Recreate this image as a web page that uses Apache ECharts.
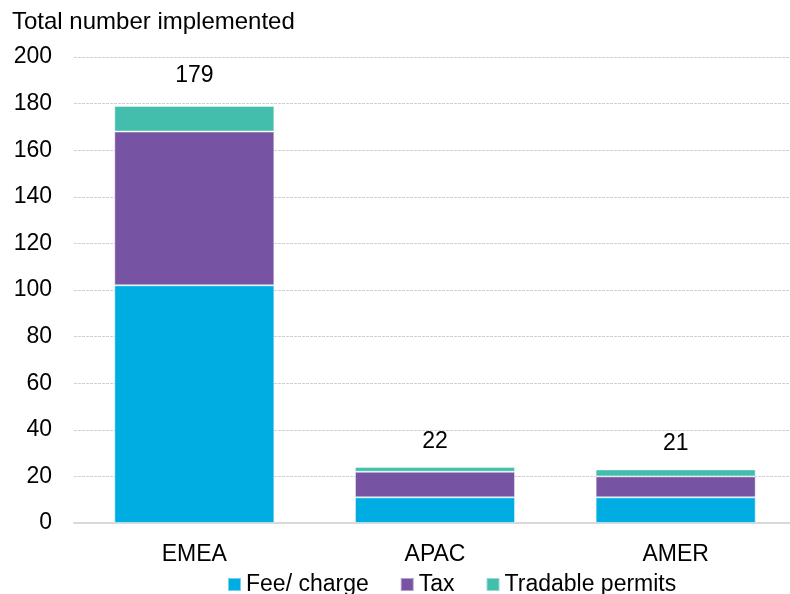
<!DOCTYPE html>
<html>
<head>
<meta charset="utf-8">
<style>html,body{margin:0;padding:0;background:#fff;overflow:hidden;width:790px;height:594px;}#c{width:796px;height:594px;}</style>
<script src="https://cdn.jsdelivr.net/npm/echarts@6/dist/echarts.min.js"></script>
</head>
<body>
<div id="c"></div>
<script>
var categories = ['EMEA', 'APAC', 'AMER'];
var feeCharge = [102, 11, 11];
var tax = [66, 11, 9];
var tradablePermits = [11, 2, 3];
var totalLabels = [179, 22, 21];
var seriesNames = ['Fee/ charge', 'Tax', 'Tradable permits'];
var yTicks = [0, 20, 40, 60, 80, 100, 120, 140, 160, 180, 200];

var FONT = '"Liberation Sans", Arial, sans-serif';
var chart = echarts.init(document.getElementById('c'), null, {renderer: 'canvas'});
var barStyle = function (c) {
  return {color: c, borderColor: 'rgba(255,255,255,0.45)', borderWidth: 1};
};
chart.setOption({
  animation: false,
  backgroundColor: '#ffffff',
  title: {
    text: 'Total number implemented',
    left: 7, top: 5,
    textStyle: {fontFamily: FONT, fontSize: 24, fontWeight: 'normal', color: '#000'}
  },
  legend: {
    data: seriesNames,
    left: 227, top: 573, padding: 0,
    itemWidth: 13, itemHeight: 13, itemGap: 31,
    icon: 'rect',
    textStyle: {fontFamily: FONT, fontSize: 23, color: '#000'}
  },
  grid: {left: 74, right: 0, top: 57, bottom: 71, containLabel: false},
  xAxis: {
    type: 'category',
    data: categories,
    axisLine: {show: true, lineStyle: {color: '#d9d9d9', width: 2}},
    axisTick: {show: false},
    axisLabel: {fontFamily: FONT, fontSize: 23, color: '#000', margin: 20}
  },
  yAxis: {
    type: 'value',
    min: yTicks[0], max: yTicks[yTicks.length - 1], interval: yTicks[1] - yTicks[0],
    axisLine: {show: false},
    axisTick: {show: false},
    axisLabel: {fontFamily: FONT, fontSize: 23, color: '#000', margin: 22},
    splitLine: {lineStyle: {color: '#d0d0d0', type: [3, 1], width: 1}}
  },
  series: [
    {name: seriesNames[0], type: 'bar', stack: 't', data: feeCharge, barWidth: '66.5%', itemStyle: barStyle('#00ade3')},
    {name: seriesNames[1], type: 'bar', stack: 't', data: tax, itemStyle: barStyle('#7654a3')},
    {name: seriesNames[2], type: 'bar', stack: 't', data: tradablePermits, itemStyle: barStyle('#43beac')},
    {
      name: 'labels', type: 'scatter', data: totalLabels, symbolSize: 0, silent: true,
      itemStyle: {opacity: 1},
      label: {show: true, position: 'top', distance: 19, fontFamily: FONT, fontSize: 23, color: '#000', opacity: 1,
        formatter: function (p) { return String(totalLabels[p.dataIndex]); }}
    }
  ]
});
</script>
</body>
</html>
